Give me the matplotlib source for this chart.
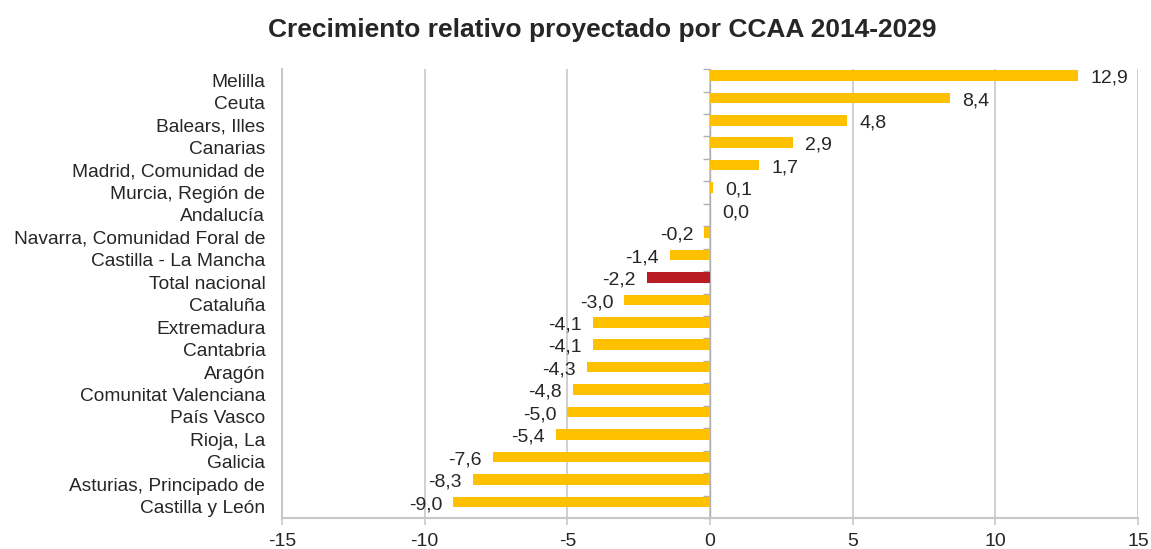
#!/usr/bin/env python3
"""
Projected relative growth by autonomous community (CCAA), 2014-2029.
Horizontal bar chart, one bar per region, national total highlighted.
"""
import numpy as np
import matplotlib
matplotlib.use('Agg')
import matplotlib.pyplot as plt

# Data (top to bottom as shown in the chart)
REGIONS = [
    'Melilla', 'Ceuta', 'Balears, Illes', 'Canarias', 'Madrid, Comunidad de',
    'Murcia, Región de', 'Andalucía', 'Navarra, Comunidad Foral de',
    'Castilla - La Mancha', 'Total nacional', 'Cataluña', 'Extremadura',
    'Cantabria', 'Aragón', 'Comunitat Valenciana', 'País Vasco', 'Rioja, La',
    'Galicia', 'Asturias, Principado de', 'Castilla y León',
]
GROWTH = [12.9, 8.4, 4.8, 2.9, 1.7, 0.1, 0.0, -0.2, -1.4, -2.2, -3.0, -4.1,
          -4.1, -4.3, -4.8, -5.0, -5.4, -7.6, -8.3, -9.0]
HIGHLIGHT = 'Total nacional'
XTICKS = [-15, -10, -5, 0, 5, 10, 15]

BAR_COLOR = '#FFC000'
HIGHLIGHT_COLOR = '#BA1C24'
TEXT_COLOR = '#262626'
GRID_COLOR = '#C8C8C8'
FS = 14
BAR_SHIFT = 0.22   # bars sit in the upper part of each category band

plt.rcParams['font.family'] = ['Liberation Sans', 'DejaVu Sans']

fig = plt.figure(figsize=(11.51, 5.49), dpi=100)
ax = fig.add_axes([0.245, 0.0565, 0.7437, 0.8177])

n = len(REGIONS)
y = np.arange(n)[::-1]
colors = [HIGHLIGHT_COLOR if r == HIGHLIGHT else BAR_COLOR for r in REGIONS]
ax.barh(y + BAR_SHIFT, GROWTH, height=0.47, color=colors, zorder=3)

# value labels, comma as decimal separator
for yi, v in zip(y + BAR_SHIFT, GROWTH):
    txt = f'{v:.1f}'.replace('.', ',')
    if v >= 0:
        ax.annotate(txt, (v, yi), xytext=(9, -2), textcoords='offset points',
                    ha='left', va='center', fontsize=FS, color=TEXT_COLOR)
    else:
        ax.annotate(txt, (v, yi), xytext=(-8, -2), textcoords='offset points',
                    ha='right', va='center', fontsize=FS, color=TEXT_COLOR)

ax.set_xlim(-15, 15)
ax.set_ylim(-0.5, n - 0.5)
ax.set_xticks(XTICKS)
ax.set_xticklabels([str(t) for t in XTICKS], fontsize=FS, color=TEXT_COLOR)
ax.set_yticks(y)
ax.set_yticklabels(REGIONS, fontsize=13.8, color=TEXT_COLOR)
ax.tick_params(axis='y', length=0, pad=12)
ax.tick_params(axis='x', length=5, width=1.2, color=GRID_COLOR, pad=6)

# vertical gridlines
ax.grid(axis='x', color=GRID_COLOR, linewidth=1.2, zorder=0)
for s in ['top', 'right']:
    ax.spines[s].set_visible(False)
for s in ['left', 'bottom']:
    ax.spines[s].set_color(GRID_COLOR)
    ax.spines[s].set_linewidth(1.5)

# zero line with small ticks at the category band edges
ax.axvline(0, color='#B0B0B0', linewidth=1.0, zorder=2)
bounds = np.arange(n + 1) - 0.5
ax.plot(np.zeros_like(bounds), bounds, ls='', marker=0, ms=5,
        color='#B0B0B0', markeredgewidth=1.0, zorder=2, clip_on=False)

fig.suptitle('Crecimiento relativo proyectado por CCAA 2014-2029',
             x=0.523, y=0.967, fontsize=19, fontweight='bold', color=TEXT_COLOR)

fig.savefig('out.png', dpi=100)
